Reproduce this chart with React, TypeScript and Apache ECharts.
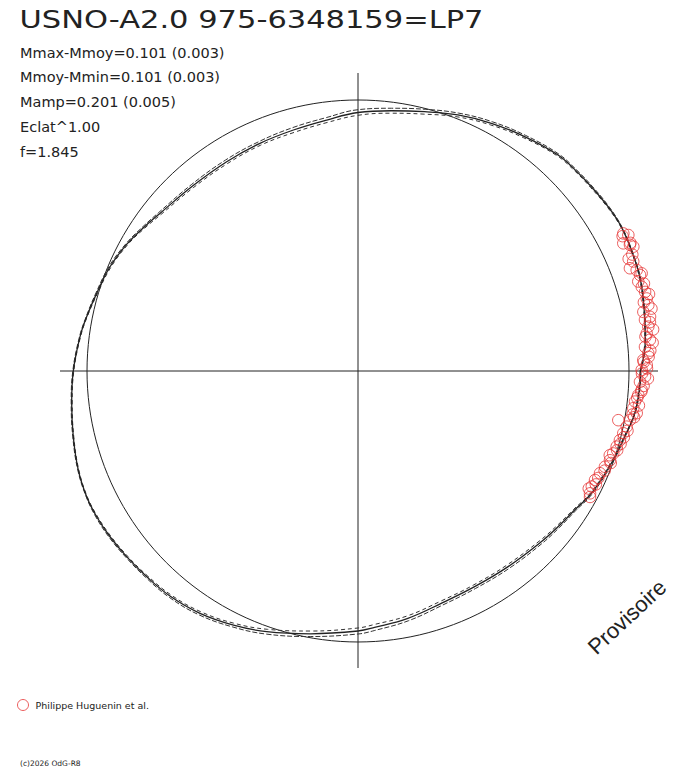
import React, { useEffect, useRef } from "react";
import * as echarts from "echarts";

// Phase angle (degrees, counter-clockwise from +x) of light-curve readings
const CURVE_ANGLE = [0, 6.2, 12.7, 18.5, 23.9, 28.7, 33.3, 38.3, 42.6, 47.2, 54.6, 61.7, 68.7, 75.6, 82.7, 90, 97.1, 105, 113.3, 122.1, 131.8, 141.5, 146.1, 151.1, 157.2, 163.4, 168.7, 173, 180, 186.4, 193, 199.5, 204.9, 209.1, 213.7, 218.8, 224.2, 230.2, 236.9, 243.9, 250.7, 259.8, 270, 273.7, 281.4, 289.7, 298.4, 307.5, 317, 322.1, 327.3, 332.3, 340, 346.2, 351.3, 356.8, 360];
// Radius of the light curve at those phases (px-scale units)
const CURVE_R = [282.5, 289, 293.1, 297.1, 298.9, 300.2, 299.2, 297.3, 296, 294.4, 287.6, 281.3, 274.8, 267.7, 262.4, 258.5, 252.9, 249.5, 247.9, 247.1, 248.2, 253.1, 257.8, 263.5, 269, 272.6, 276.7, 280.1, 284.7, 288.1, 292.2, 296.7, 299, 299.2, 298.3, 296.6, 294.9, 293.2, 289.3, 283, 276.2, 267, 260, 257, 252.3, 246.8, 245.2, 246.6, 250.5, 253.5, 257.4, 263.5, 269.6, 274.6, 279.9, 282.1, 282.5];
// Half-width of the band of overlapping cycles at those phases
const CURVE_SPREAD = [0.5, 0.5, 0.5, 0.5, 0.5, 0.5, 0.8, 1, 1, 1.2, 1.5, 1.8, 2, 2.5, 2.5, 2.8, 2.5, 2.5, 2, 2, 1.8, 1.5, 1.2, 1, 1, 0.8, 0.5, 0.5, 0.5, 0.5, 0.5, 0.5, 0.5, 0.8, 1, 1, 1.2, 1.5, 1.8, 2, 2.5, 2.8, 3, 3, 2.5, 2.2, 2, 2, 1.8, 1.5, 1.2, 1, 0.8, 0.5, 0.5, 0.5, 0.5];

// Observations (Philippe Huguenin et al.): phase angle and radius
const RED_ANGLE = [27.4, 26.7, 25.7, 24.9, 24.3, 21.7, 20.7, 19.9, 18.8, 17.7, 16.5, 15.4, 14.1, 12.8, 11.7, 10.5, 10.1, 8.7, 7.4, 6.1, 4.8, 3.5, 2.2, 1.2, 0.2, 358.9, 357.8, 356.2, 355.1, 353.7, 352.3, 351.4, 349.8, 349.3, 348.3, 346.8, 345.2, 343.7, 342.1, 340.5, 338.8, 337.1, 335.3, 333.7, 332.2,
  27.0, 25.2, 23.0, 22.5, 19.0, 17.0, 14.8, 13.5, 12.0, 9.5, 8.0, 6.8, 5.5, 4.0, 2.8, 1.8, 0.5, 359.5, 358.5, 357.0, 355.8, 354.5, 353.0, 351.0, 350.5, 347.5, 346.0, 344.5, 343.0, 341.5, 340.0, 338.0, 336.0, 334.5, 333.0, 331.5];
const RED_R = [298.9, 302.6, 294.4, 299.8, 302.1, 296.2, 290.7, 296.4, 297.9, 294.2, 296, 297.8, 297.7, 297.7, 291.4, 297, 291.5, 293.7, 291.1, 293.6, 288, 290.8, 285.5, 288.8, 283.7, 287.1, 282.2, 284.3, 281.3, 278.7, 277.8, 281.9, 276.4, 264.9, 274.4, 272.5, 270.9, 269.5, 268.2, 267.3, 264.9, 262.7, 260.9, 260.8, 262.3,
  297, 301, 298, 293, 300, 299, 301, 294, 300, 296, 298, 289.5, 296, 293, 291, 286, 289, 284, 290, 286, 284, 280.5, 283, 278, 280, 276, 274, 272.5, 271, 265.5, 269, 266, 263, 263.5, 259, 264];

// Cross-hair extents [radius, angle]
const HAXIS = [[300, 0], [298, 180]];
const VAXIS = [[298, 90], [297, 270]];

const TITLE = "USNO-A2.0 975-6348159=LP7";
const STATS = ["Mmax-Mmoy=0.101 (0.003)", "Mmoy-Mmin=0.101 (0.003)", "Mamp=0.201 (0.005)", "Eclat^1.00", "f=1.845"];
const SERIES_NAME = "Philippe Huguenin et al.";

const RED = "#e63434";
const INK = "#222";
const FONT = "DejaVu Sans";
const CENTER = [358, 371];

function txt(text: string, x: number, y: number, size: number, extra: any = {}) {
  const { align, family, ...rest } = extra;
  return {
    type: "text",
    x,
    y,
    silent: true,
    ...rest,
    style: {
      text,
      fontSize: size,
      fontFamily: family || FONT,
      fill: INK,
      align: align || "left",
      textAlign: align || "left",
      verticalAlign: "middle",
      textVerticalAlign: "middle",
    },
  };
}

export default function App() {
  const ref = useRef<HTMLDivElement>(null);
  useEffect(() => {
    const chart = echarts.init(ref.current!, null, { renderer: "svg" });
    const curve = (sign: number) => CURVE_ANGLE.map((a, i) => [CURVE_R[i] + sign * CURVE_SPREAD[i], a]);
    const hidden = { show: false, axisLine: { show: false }, splitLine: { show: false }, axisTick: { show: false }, axisLabel: { show: false } };
    const option: any = {
      animation: false,
      backgroundColor: "#fff",
      polar: [
        { center: CENTER, radius: 310 },
        { center: CENTER, radius: 271 },
      ],
      angleAxis: [
        { polarIndex: 0, type: "value", min: 0, max: 360, startAngle: 0, clockwise: false, ...hidden },
        { polarIndex: 1, type: "value", min: 0, max: 360, startAngle: 0, clockwise: false, axisLine: { show: true, lineStyle: { color: INK, width: 1 } }, splitLine: { show: false }, axisTick: { show: false }, axisLabel: { show: false } },
      ],
      radiusAxis: [
        { polarIndex: 0, type: "value", min: 0, max: 310, ...hidden },
        { polarIndex: 1, type: "value", min: 0, max: 1, ...hidden },
      ],
      legend: {
        data: [{ name: SERIES_NAME, icon: "circle", itemStyle: { color: "rgba(0,0,0,0)", borderColor: RED, borderWidth: 1 } }],
        left: 17,
        top: 699,
        padding: 0,
        itemWidth: 11,
        itemHeight: 11,
        selectedMode: false,
        textStyle: { fontFamily: FONT, fontSize: 9.5, color: INK, padding: [0, 0, 0, 2] },
      },
      series: [
        { type: "line", coordinateSystem: "polar", polarIndex: 0, data: HAXIS, showSymbol: false, silent: true, lineStyle: { color: INK, width: 1 }, z: 1 },
        { type: "line", coordinateSystem: "polar", polarIndex: 0, data: VAXIS, showSymbol: false, silent: true, lineStyle: { color: INK, width: 1 }, z: 1 },
        { type: "line", coordinateSystem: "polar", polarIndex: 0, data: curve(1), smooth: 0.4, showSymbol: false, silent: true, lineStyle: { color: "#333", width: 1, type: [5, 2] }, z: 2 },
        { type: "line", coordinateSystem: "polar", polarIndex: 0, data: curve(-1), smooth: 0.4, showSymbol: false, silent: true, lineStyle: { color: "#333", width: 1, type: [4, 3] }, z: 2 },
        { type: "line", coordinateSystem: "polar", polarIndex: 0, data: curve(0), smooth: 0.4, showSymbol: false, silent: true, lineStyle: { color: INK, width: 1.3 }, z: 3 },
        {
          name: SERIES_NAME,
          type: "scatter",
          coordinateSystem: "polar",
          polarIndex: 0,
          data: RED_ANGLE.map((a, i) => [RED_R[i], a]),
          symbol: "circle",
          symbolSize: 11.5,
          silent: true,
          itemStyle: { color: "rgba(0,0,0,0)", borderColor: RED, borderWidth: 1 },
          z: 4,
        },
      ],
      graphic: [
        txt(TITLE, 19.5, 19.5, 25, { scaleX: 1.22 }),
        ...STATS.map((s, i) => txt(s, 20, 52.5 + i * 24.9, 14.5)),
        txt("(c)2026 OdG-R8", 20, 763, 7.5),
        txt("Provisoire", 627, 617, 22, { align: "center", rotation: (43 * Math.PI) / 180, family: "Liberation Sans" }),
      ],
    };
    chart.setOption(option);
    return () => chart.dispose();
  }, []);
  return <div ref={ref} style={{ position: "fixed", left: 0, top: 0, width: 688, height: 768, background: "#fff" }} />;
}
